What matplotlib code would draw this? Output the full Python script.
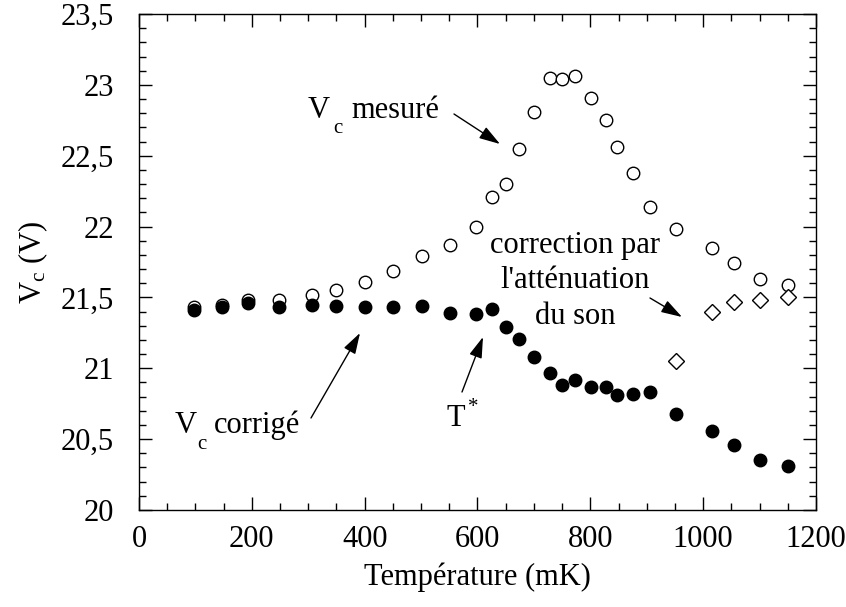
import matplotlib
matplotlib.use("Agg")
import matplotlib.pyplot as plt
from matplotlib.ticker import MultipleLocator, FuncFormatter

plt.rcParams['font.family'] = ['Liberation Serif', 'DejaVu Serif']
plt.rcParams['mathtext.fontset'] = 'custom'
plt.rcParams['mathtext.rm'] = 'Liberation Serif'
plt.rcParams['mathtext.it'] = 'Liberation Serif:italic'

# temperatures (mK)
temp = [98, 148, 193, 248, 306, 349, 400, 450, 502, 552, 598, 625, 650, 673,
        700, 729, 750, 772, 801, 828, 848, 876, 906, 952, 1015, 1055, 1100, 1150]
# Vc measured (open circles)
vc_mesure = [21.43, 21.45, 21.48, 21.48, 21.52, 21.55, 21.61, 21.69, 21.79, 21.87,
             22.00, 22.21, 22.30, 22.55, 22.81, 23.05, 23.04, 23.06, 22.91, 22.75,
             22.56, 22.38, 22.14, 21.98, 21.85, 21.74, 21.63, 21.59]
# Vc corrected (filled circles)
vc_corrige = [21.41, 21.43, 21.46, 21.43, 21.45, 21.44, 21.43, 21.43, 21.44, 21.39,
              21.38, 21.42, 21.29, 21.21, 21.08, 20.97, 20.88, 20.92, 20.87, 20.87,
              20.81, 20.82, 20.83, 20.68, 20.56, 20.46, 20.35, 20.31]
# correction by sound attenuation (diamonds)
temp_att = [952, 1015, 1055, 1100, 1150]
vc_att = [21.05, 21.40, 21.47, 21.48, 21.50]

fig = plt.figure(figsize=(8.46, 6.07), dpi=100)
ax = fig.add_axes([0.1643, 0.1598, 0.8002, 0.8171])

ax.plot(temp, vc_mesure, 'o', ls='none', ms=9, mfc='white', mec='black', mew=1.0)
ax.plot(temp, vc_corrige, 'o', ls='none', ms=9, mfc='black', mec='black', mew=1.0)
ax.plot(temp_att, vc_att, 'D', ls='none', ms=8, mfc='white', mec='black', mew=1.0)

ax.set_xlim(0, 1200)
ax.set_ylim(20, 23.5)
ax.xaxis.set_major_locator(MultipleLocator(200))
ax.xaxis.set_minor_locator(MultipleLocator(50))
ax.yaxis.set_major_locator(MultipleLocator(0.5))
ax.yaxis.set_minor_locator(MultipleLocator(0.1))
ax.yaxis.set_major_formatter(FuncFormatter(lambda v, p: ('%g' % v).replace('.', ',')))
ax.tick_params(which='both', direction='in', top=True, right=True, width=1)
ax.tick_params(which='major', length=9.5, labelsize=22)
ax.tick_params(axis='x', which='major', pad=11)
ax.tick_params(axis='y', which='major', pad=18)
ax.tick_params(which='minor', length=5)
for s in ax.spines.values():
    s.set_linewidth(1)

ax.set_xlabel('Température (mK)', fontsize=22, labelpad=6)
ax.set_ylabel(r'V$_{\mathrm{c}}$ (V)', fontsize=22, labelpad=8)

arrow = dict(arrowstyle='-|>,head_length=0.8,head_width=0.25', color='black',
             lw=1, shrinkA=0, shrinkB=0, mutation_scale=16)

def px(x, y):
    # pixel position in figure -> figure fraction
    return (x / 846.0, 1 - y / 607.0)

def label(x, y, s, **kw):
    fig.text(x / 846.0, 1 - y / 607.0, s, ha='left', va='baseline', **kw)

def point(x0, y0, x1, y1):
    ax.annotate('', xy=px(x1, y1), xytext=px(x0, y0), xycoords='figure fraction',
                textcoords='figure fraction', arrowprops=arrow)

# V_c mesuré
label(308, 118, 'V', fontsize=22)
label(333, 133, 'c', fontsize=15)
label(351, 118, 'mesuré', fontsize=22)
point(454, 114, 500, 144)

# correction par l'atténuation du son
for yb, line in zip([253, 288, 324], ['correction par', "l'atténuation", 'du son']):
    fig.text(575 / 846.0, 1 - yb / 607.0, line, fontsize=22, ha='center', va='baseline')
point(650, 298, 682, 317)

# V_c corrigé
label(175, 433, 'V', fontsize=22)
label(197, 449, 'c', fontsize=15)
label(214, 433, 'corrigé', fontsize=22)
point(311, 418, 360, 333)

# T*
label(446, 426, 'T', fontsize=22)
label(468, 412, '*', fontsize=15)
point(462, 392, 483, 337)

fig.savefig('out.png', dpi=100)
